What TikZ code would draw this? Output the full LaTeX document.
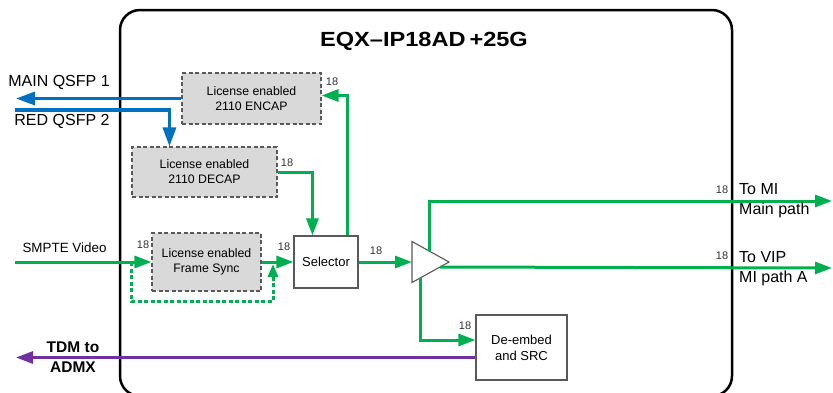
\documentclass[tikz,border=0pt]{standalone}
\usepackage{fontspec}
\setmainfont{Liberation Sans}
\usetikzlibrary{arrows.meta,calc}
\definecolor{grn}{HTML}{00B050}
\definecolor{blu}{HTML}{0070C0}
\definecolor{pur}{HTML}{7030A0}
\definecolor{boxgray}{HTML}{D9D9D9}
\definecolor{dashgray}{HTML}{595959}
\tikzset{
  licbox/.style={draw=dashgray, dashed, dash pattern=on 4pt off 2.5pt, line width=1.1pt, fill=boxgray, align=center, inner sep=0pt, font=\fontsize{12.3}{15}\selectfont},
  plainbox/.style={draw=dashgray, line width=1.1pt, fill=white, align=center, inner sep=0pt, font=\fontsize{13}{16}\selectfont},
  gline/.style={draw=grn, line width=3pt, -{Triangle[length=17pt,width=12pt]}},
  gdash/.style={draw=grn, line width=3pt, dash pattern=on 4pt off 2.5pt, -{Triangle[length=13pt,width=10pt]}},
  bline/.style={draw=blu, line width=3.2pt, -{Triangle[length=19pt,width=13pt]}},
  pline/.style={draw=pur, line width=2.8pt, -{Triangle[length=17pt,width=12pt]}},
  num/.style={font=\fontsize{11}{13}\selectfont, inner sep=0pt, text=black!80},
  lbl/.style={font=\fontsize{16}{19}\selectfont, inner sep=0pt, anchor=west},
}
\begin{document}
\begin{tikzpicture}[x=1pt,y=-1pt]
\useasboundingbox (0,0) rectangle (833,392);
% main frame
\draw[line width=2.5pt, rounded corners=20pt] (120,10) rectangle (732,396);
\node[font=\bfseries\fontsize{20.5}{24}\selectfont, inner sep=0pt] (title) at (424,41) {\scalebox{1.15}[1]{EQX--IP18AD\,+25G}};

% boxes
\node[licbox, minimum width=139, minimum height=51] (encap) at (251.5,98.5) {License enabled\\2110 ENCAP};
\node[licbox, minimum width=145, minimum height=50] (decap) at (204.5,172) {License enabled\\2110 DECAP};
\node[licbox, minimum width=109, minimum height=58] (fsync) at (206.5,262) {License enabled\\Frame Sync};
\node[plainbox, minimum width=64, minimum height=52] (sel) at (326,262) {Selector};
\node[plainbox, minimum width=91, minimum height=65] (demb) at (521.5,347.5) {De-embed\\and SRC};

% amplifier triangle
\coordinate (ampL) at (412,262);
\coordinate (ampTip) at (449,262);
\draw[draw=dashgray, line width=1.1pt, fill=white] (412,241.5) -- (449,262) -- (412,282.5) -- cycle;

% blue
\coordinate (mainEnd) at (16,98.5);
\coordinate (redStart) at (15,110);
\draw[bline] (encap.west) -- (mainEnd);
\draw[bline] (redStart) -| ($(decap.north west)+(38,0)$);
\node[font=\fontsize{16}{19}\selectfont, inner sep=0pt] (mainq) at (59,82) {MAIN QSFP 1};
\node[font=\fontsize{16}{19}\selectfont, inner sep=0pt] (redq) at (62,121) {RED QSFP 2};

% green
\draw[gline] ($(sel.north east)+(-11,0)$) |- ($(encap.east)+(0,-3)$);
\draw[gline] (decap.east) -| ($(sel.north west)+(19,0)$);
\coordinate (smpteStart) at (15,262);
\draw[gline] (smpteStart) -- (fsync.west);
\draw[gline] (fsync.east) -- (sel.west);
\coordinate (dA) at (131,262);
\coordinate (dCorner) at (273,301);
\coordinate (dB) at (273,264);
\draw[gdash] (dA) |- (dCorner) -- (dB);
\draw[gline] (sel.east) -- (ampL);
\coordinate (ampTopOut) at (429,251);
\coordinate (out1) at (832,201);
\draw[gline] (ampTopOut) |- (out1);
\coordinate (ampLowOut) at (440,267);
\coordinate (out2) at (832,268);
\draw[gline] (ampLowOut) -- (out2);
\coordinate (ampBotOut) at (420,278);
\draw[gline] (ampBotOut) |- ($(demb.west)+(0,-7.5)$);

% purple
\coordinate (tdmEnd) at (16,357.5);
\draw[pline] ($(demb.west)+(0,10)$) -- (tdmEnd);

% labels
\node[font=\fontsize{13.4}{16}\selectfont, inner sep=0pt] (smpte) at (64.5,248) {SMPTE Video};
\node[font=\bfseries\fontsize{15.5}{20}\selectfont, inner sep=0pt, align=center] (tdm) at (73,357) {TDM to\\ADMX};
\node[lbl] (tomi) at (739,189) {To MI};
\node[lbl] (mainp) at (739,210.5) {Main path};
\node[lbl] (tovip) at (739,257) {To VIP};
\node[lbl] (mipa) at (739,278.5) {MI path A};

% 18 labels
\node[num] (n1) at (332,82) {18};
\node[num] (n2) at (287,163) {18};
\node[num] (n3) at (143,245) {18};
\node[num] (n4) at (284,247) {18};
\node[num] (n5) at (376,251) {18};
\node[num] (n6) at (722,190) {18};
\node[num] (n7) at (722,256) {18};
\node[num] (n8) at (465,326) {18};
\end{tikzpicture}
\end{document}
